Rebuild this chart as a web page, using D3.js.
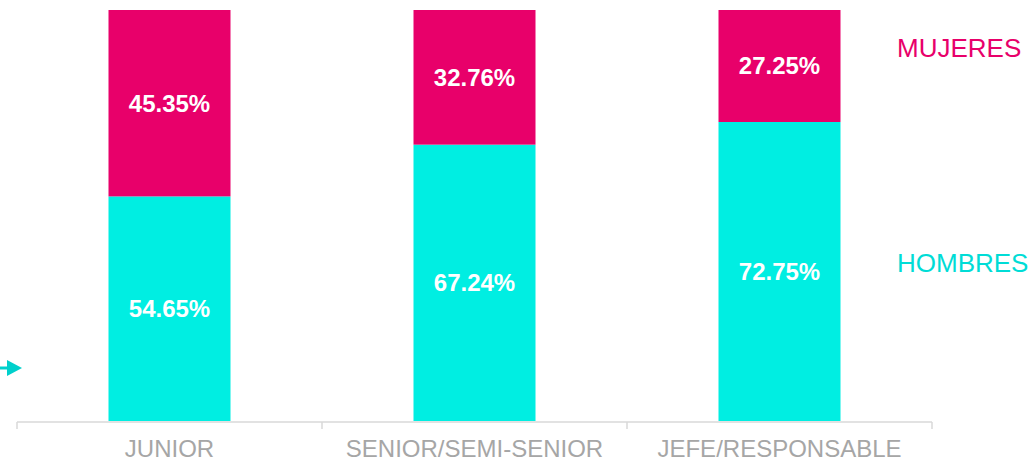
<!DOCTYPE html>
<html>
<head>
<meta charset="utf-8">
<script src="https://cdn.jsdelivr.net/npm/d3@7"></script>
<style>
body { margin: 0; background: #fff; }
svg { display: block; font-family: "Liberation Sans", Arial, sans-serif; }
</style>
</head>
<body>
<div class="chart"></div>
<script>
var categories = ['JUNIOR', 'SENIOR/SEMI-SENIOR', 'JEFE/RESPONSABLE'];
var hombres = [54.65, 67.24, 72.75];
var mujeres = [45.35, 32.76, 27.25];
var seriesNames = ['HOMBRES', 'MUJERES'];

var WIDTH = 1033, HEIGHT = 461;
var TOP = 10, BASE = 421, LEFT = 17, RIGHT = 932;
var PINK = '#e8006a', CYAN = '#00eee2';

var svg = d3.select('.chart').append('svg')
	.attr('width', WIDTH)
	.attr('height', HEIGHT);

var xScale = d3.scaleBand()
	.domain(categories)
	.range([LEFT, RIGHT])
	.paddingInner(0.6)
	.paddingOuter(0.3);

var yScale = d3.scaleLinear()
	.domain([0, 100])
	.range([BASE, TOP]);

var rows = categories.map(function(c, i) {
	return {cat: c, HOMBRES: hombres[i], MUJERES: mujeres[i]};
});
var stacked = d3.stack().keys(seriesNames)(rows);
var colors = {HOMBRES: CYAN, MUJERES: PINK};

var layers = svg.selectAll('g.layer').data(stacked)
	.enter().append('g')
	.attr('class', 'layer')
	.attr('fill', function(d) { return colors[d.key]; });

layers.selectAll('rect').data(function(d) { return d; })
	.enter().append('rect')
	.attr('x', function(d) { return xScale(d.data.cat); })
	.attr('y', function(d) { return yScale(d[1]); })
	.attr('width', xScale.bandwidth())
	.attr('height', function(d) { return yScale(d[0]) - yScale(d[1]); });

layers.selectAll('text').data(function(d) { return d; })
	.enter().append('text')
	.attr('x', function(d) { return xScale(d.data.cat) + xScale.bandwidth() / 2; })
	.attr('y', function(d) { return (yScale(d[0]) + yScale(d[1])) / 2; })
	.attr('dy', '0.35em')
	.attr('text-anchor', 'middle')
	.attr('fill', '#fff')
	.attr('font-weight', 'bold')
	.attr('font-size', 24)
	.text(function(d) { return (d[1] - d[0]).toFixed(2) + '%'; });

// axis: band edges as ticks
var axis = svg.append('g');
axis.append('line')
	.attr('x1', LEFT).attr('x2', RIGHT)
	.attr('y1', BASE + 1).attr('y2', BASE + 1)
	.attr('stroke', '#d9d9d9').attr('stroke-width', 1.5);
var step = xScale.step();
var edges = d3.range(categories.length + 1).map(function(i) { return LEFT + i * step; });
axis.selectAll('line.tick').data(edges)
	.enter().append('line')
	.attr('class', 'tick')
	.attr('x1', function(d) { return d; }).attr('x2', function(d) { return d; })
	.attr('y1', BASE + 1).attr('y2', BASE + 8)
	.attr('stroke', '#d9d9d9').attr('stroke-width', 1.5);
axis.selectAll('text').data(categories)
	.enter().append('text')
	.attr('x', function(d) { return xScale(d) + xScale.bandwidth() / 2; })
	.attr('y', 457)
	.attr('text-anchor', 'middle')
	.attr('fill', '#a6a6a6')
	.attr('font-size', 24)
	.text(function(d) { return d; });

// legend labels at right
svg.append('text').attr('x', 897).attr('y', 57)
	.attr('fill', PINK).attr('font-size', 26).text('MUJERES');
svg.append('text').attr('x', 897).attr('y', 272)
	.attr('fill', '#00dcd6').attr('font-size', 26).text('HOMBRES');

// small arrow at left
svg.append('line')
	.attr('x1', 0).attr('x2', 9).attr('y1', 368).attr('y2', 368)
	.attr('stroke', '#00d0cc').attr('stroke-width', 3);
svg.append('path')
	.attr('d', 'M7,360 L22,368 L7,376 Z')
	.attr('fill', '#00d0cc');
</script>
</body>
</html>
